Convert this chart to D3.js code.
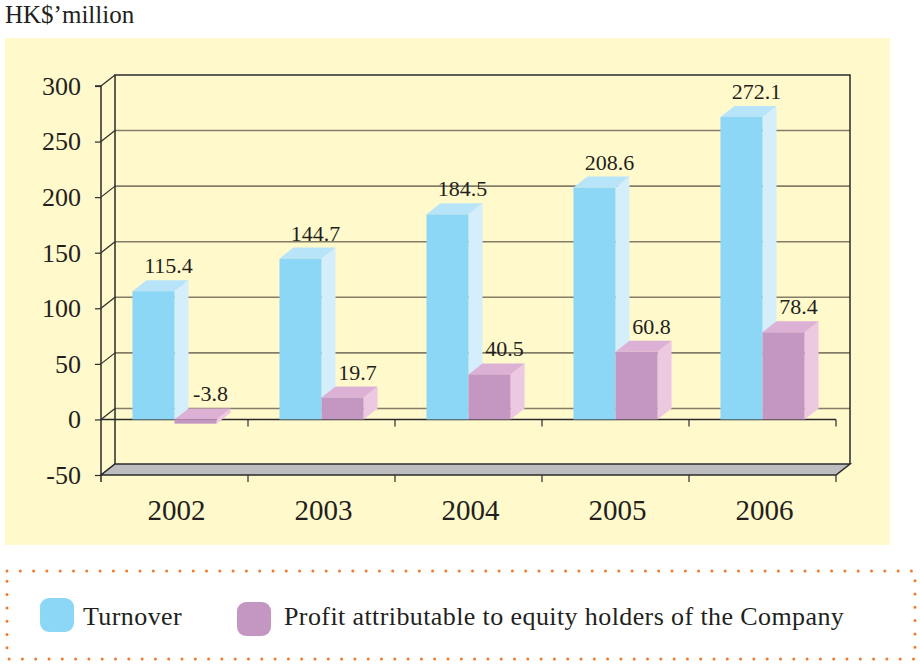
<!DOCTYPE html>
<html>
<head>
<meta charset="utf-8">
<script src="https://cdn.jsdelivr.net/npm/d3@7"></script>
<style>
  body { margin: 0; background: #fff; }
  svg text { font-family: "Liberation Serif", "Times New Roman", serif; fill: #231f20; }
</style>
</head>
<body>
<svg id="chart" width="920" height="664"></svg>
<script>
// chart data
var years = ["2002", "2003", "2004", "2005", "2006"];
var turnover = [115.4, 144.7, 184.5, 208.6, 272.1];
var profit = [-3.8, 19.7, 40.5, 60.8, 78.4];
var yTicks = [-50, 0, 50, 100, 150, 200, 250, 300];
var seriesNames = ["Turnover", "Profit attributable to equity holders of the Company"];

var svg = d3.select("#chart");

// 3d depth offset
var dx = 14, dy = -11;
var grid = "#847e68", dark = "#2b2b2b";

// plain hyphen for negatives, like the original
var fmt = d => String(d);
var fmt1 = d => d.toFixed(1);

var x = d3.scaleBand().domain(years).range([101, 836]).padding(0);
var y = d3.scaleLinear().domain([-50, 300]).range([475, 86]);

// background panel
svg.append("rect")
    .attr("x", 5).attr("y", 38)
    .attr("width", 885).attr("height", 507)
    .attr("fill", "#fff9cc");

svg.append("text")
    .attr("x", 5).attr("y", 23)
    .style("font-size", "25px")
    .text("HK$\u2019million");

// back wall gridlines
svg.selectAll("line.grid")
    .data(yTicks.filter(d => d > -50 && d < 300))
    .enter()
    .append("line")
    .attr("class", "grid")
    .attr("x1", 101 + dx).attr("x2", 836 + dx)
    .attr("y1", d => y(d) + dy).attr("y2", d => y(d) + dy)
    .attr("stroke", grid).attr("stroke-width", 1.6);

// left wall diagonals
svg.selectAll("line.diag")
    .data(yTicks)
    .enter()
    .append("line")
    .attr("class", "diag")
    .attr("x1", 101).attr("x2", 101 + dx)
    .attr("y1", d => y(d)).attr("y2", d => y(d) + dy)
    .attr("stroke", dark).attr("stroke-width", 1.2);

// back wall frame
svg.append("path")
    .attr("d", `M${101 + dx},${y(-50) + dy}V${y(300) + dy}H${836 + dx}V${y(-50) + dy}`)
    .attr("fill", "none").attr("stroke", dark).attr("stroke-width", 1.5);

// floor
svg.append("path")
    .attr("d", `M101,${y(-50)}L${101 + dx},${y(-50) + dy}H${836 + dx}L836,${y(-50)}Z`)
    .attr("fill", "#bdbdbf").attr("stroke", dark).attr("stroke-width", 1.5);

// value axis
var yAxis = svg.append("g").attr("transform", "translate(101,0)")
    .call(d3.axisLeft(y).tickValues(yTicks).tickSize(6).tickPadding(14).tickFormat(fmt));
yAxis.select(".domain").attr("stroke", dark).attr("stroke-width", 1.5)
    .attr("d", `M-6,${y(300)}H0V${y(-50) + 7}`);
yAxis.selectAll(".tick line").attr("stroke", dark).attr("stroke-width", 1.2);
yAxis.selectAll(".tick text")
    .style("font-size", "26px")
    .style("font-family", "'Liberation Serif', serif")
    .attr("fill", "#231f20");

// zero category line with ticks
var bounds = years.map(d => x(d) + x.bandwidth());
svg.append("line")
    .attr("x1", 101).attr("x2", 836)
    .attr("y1", y(0)).attr("y2", y(0))
    .attr("stroke", dark).attr("stroke-width", 1.5);
svg.selectAll("line.tick0")
    .data(bounds)
    .enter()
    .append("line")
    .attr("class", "tick0")
    .attr("x1", d => d).attr("x2", d => d)
    .attr("y1", y(0)).attr("y2", y(0) + 7)
    .attr("stroke", dark).attr("stroke-width", 1.2);
svg.selectAll("line.tickF")
    .data(bounds)
    .enter()
    .append("line")
    .attr("class", "tickF")
    .attr("x1", d => d).attr("x2", d => d)
    .attr("y1", y(-50)).attr("y2", y(-50) + 7)
    .attr("stroke", dark).attr("stroke-width", 1.2);

// bars
var barW = x.bandwidth() * 0.286;
var colours = [
    { front: "#8dd7f6", top: "#b8e4f9", side: "#d5eefb" },
    { front: "#c497c3", top: "#dcb1d5", side: "#ecc8e1" }
];

var bars = [];
years.forEach(function (yr, i) {
    var c = x(yr) + x.bandwidth() / 2;
    bars.push({ s: 0, x0: c - barW, v: turnover[i] });
    bars.push({ s: 1, x0: c, v: profit[i] });
});

var g = svg.selectAll("g.bar")
    .data(bars)
    .enter()
    .append("g")
    .attr("class", "bar");

g.append("path")
    .attr("fill", d => colours[d.s].side)
    .attr("d", function (d) {
        var x1 = d.x0 + barW, yt = y(Math.max(d.v, 0)), yb = y(Math.min(d.v, 0));
        return `M${x1},${yt}L${x1 + dx},${yt + dy}V${yb + dy}L${x1},${yb}Z`;
    });
g.append("path")
    .attr("fill", d => colours[d.s].top)
    .attr("d", function (d) {
        var yt = y(Math.max(d.v, 0));
        return `M${d.x0},${yt}L${d.x0 + dx},${yt + dy}H${d.x0 + barW + dx}L${d.x0 + barW},${yt}Z`;
    });
g.append("rect")
    .attr("fill", d => colours[d.s].front)
    .attr("x", d => d.x0)
    .attr("y", d => y(Math.max(d.v, 0)))
    .attr("width", barW)
    .attr("height", d => Math.abs(y(d.v) - y(0)));

g.append("text")
    .attr("x", d => d.x0 + barW / 2 + 15)
    .attr("y", d => y(Math.max(d.v, 0)) - 18)
    .attr("text-anchor", "middle")
    .style("font-size", "22px")
    .text(d => fmt1(d.v));

// category labels
svg.selectAll("text.year")
    .data(years)
    .enter()
    .append("text")
    .attr("class", "year")
    .attr("x", d => x(d) + x.bandwidth() / 2 + 2)
    .attr("y", 520)
    .attr("text-anchor", "middle")
    .style("font-size", "29px")
    .text(d => d);

// legend
svg.append("rect")
    .attr("x", 7).attr("y", 571)
    .attr("width", 908).attr("height", 88)
    .attr("fill", "none")
    .attr("stroke", "#f07a2a").attr("stroke-width", 3)
    .attr("stroke-linecap", "round")
    .attr("stroke-dasharray", "0 13.3");

var legendX = [40, 237];
var textX = [83, 284];
var legendY = [598, 602];
seriesNames.forEach(function (name, i) {
    svg.append("rect")
        .attr("x", legendX[i]).attr("y", legendY[i])
        .attr("width", 34).attr("height", 34)
        .attr("rx", 9)
        .attr("fill", colours[i].front);
    svg.append("text")
        .attr("x", textX[i]).attr("y", 625)
        .style("font-size", "26px")
        .style("letter-spacing", "0.4px")
        .text(name);
});
</script>
</body>
</html>
